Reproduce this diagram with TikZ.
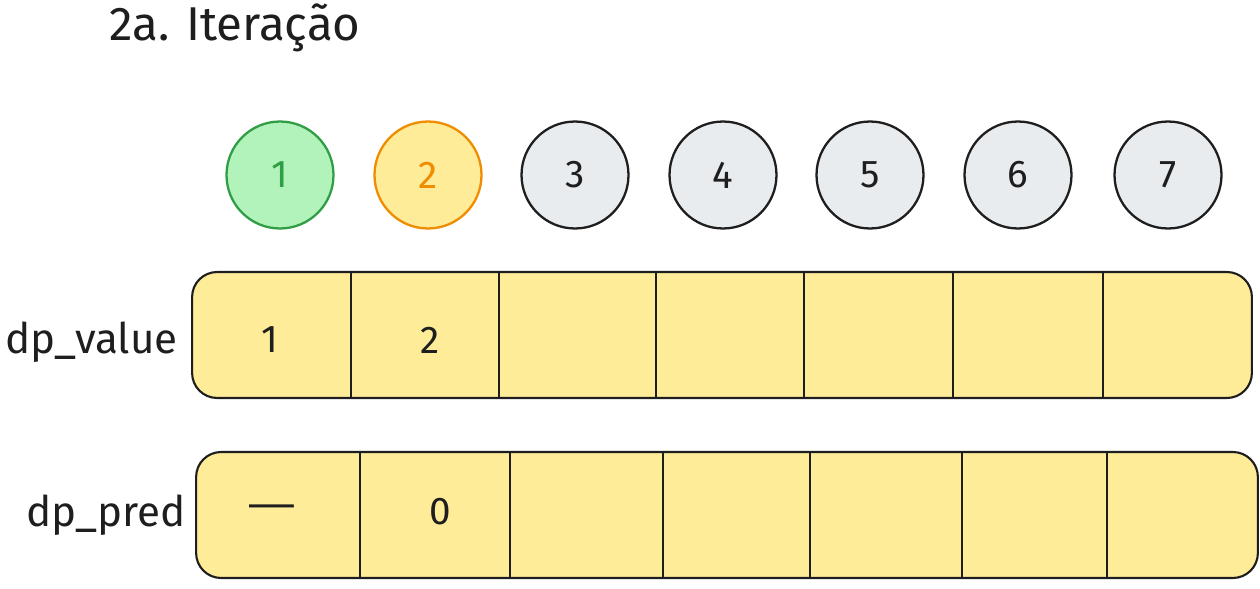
\documentclass[tikz,border=0pt]{standalone}
\usepackage{fontspec}
\setmainfont{Fira Sans}
\usepackage{xcolor}
\definecolor{sketchink}{HTML}{1E1E1E}
\definecolor{sketchgreen}{HTML}{2F9E44}
\definecolor{sketchgreenfill}{HTML}{B2F2BB}
\definecolor{sketchorange}{HTML}{F08C00}
\definecolor{sketchyellow}{HTML}{FFEC99}
\definecolor{sketchgray}{HTML}{E9ECEF}
\usetikzlibrary{positioning}

\tikzset{
  vertex/.style={draw=sketchink, fill=sketchgray, circle, line width=1.3pt, minimum size=2.14cm, inner sep=0pt, text=sketchink},
  rowbox/.style={draw=sketchink, fill=sketchyellow, rounded corners=0.5cm, line width=1.2pt, minimum height=2.52cm, inner sep=0pt},
  divider/.style={draw=sketchink, line width=1.2pt},
  cellval/.style={text=sketchink},
  rowlabel/.style={text=sketchink, inner sep=0pt, font=\fontsize{24}{28}\selectfont}
}

\begin{document}
\begin{tikzpicture}[x=0.02cm, y=-0.02cm, font=\fontsize{22}{26}\selectfont]
    \useasboundingbox (0,0) rectangle (1260,588);

    % Title
    \node[anchor=west, text=sketchink, font=\fontsize{27}{32}\selectfont] (title) at (103,28) {2a. Iteração};

    % Vertices
    \node[vertex, draw=sketchgreen, fill=sketchgreenfill, text=sketchgreen] (n1) at (280,175) {1};
    \node[vertex, draw=sketchorange, fill=sketchyellow, text=sketchorange] (n2) at (428,175) {2};
    \foreach \i/\x in {3/575, 4/723, 5/870, 6/1018, 7/1168} {
        \node[vertex] (n\i) at (\x,175) {\i};
    }

    % dp_value row
    \node[rowbox, minimum width=21.2cm] (vrow) at (722,335) {};
    \foreach \x in {351, 499, 656, 804, 953, 1103} {
        \draw[divider] (\x,0 |- vrow.north) -- (\x,0 |- vrow.south);
    }
    \node[rowlabel, left=0.26cm of vrow, yshift=-0.14cm] (vlab) {dp\_value};
    \node[cellval] (v1) at (270,340) {1};
    \node[cellval] (v2) at (430,340) {2};

    % dp_pred row
    \node[rowbox, minimum width=21.24cm] (prow) at (727,515) {};
    \foreach \x in {360, 510, 663, 810, 962, 1107} {
        \draw[divider] (\x,0 |- prow.north) -- (\x,0 |- prow.south);
    }
    \node[rowlabel, left=0.18cm of prow] (plab) {dp\_pred};
    \node[cellval] (p1) at (272,512) {\scalebox{1.6}[1]{—}};
    \node[cellval] (p2) at (440,512) {0};
\end{tikzpicture}
\end{document}
